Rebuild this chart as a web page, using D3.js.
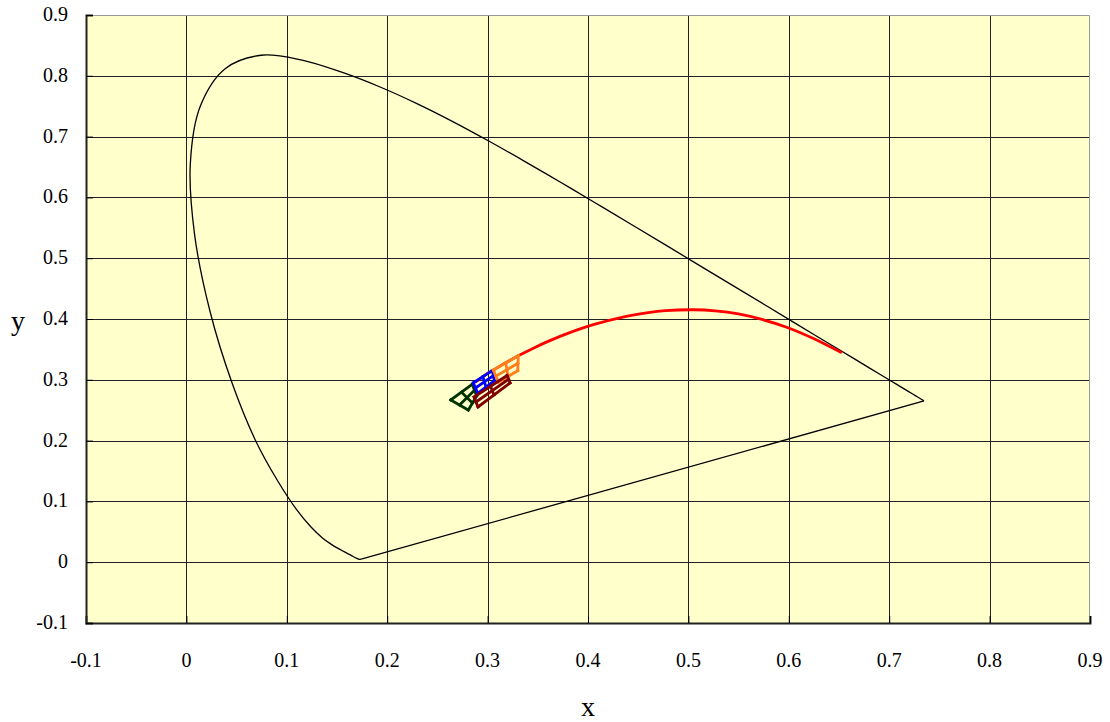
<!DOCTYPE html>
<html>
<head>
<meta charset="utf-8">
<script src="https://cdn.jsdelivr.net/npm/d3@7"></script>
<style>
  body { margin: 0; background: #fff; }
  text { font-family: "Liberation Serif", "DejaVu Serif", serif; fill: #000; }
</style>
</head>
<body>
<script>
// Spectrum locus (x, y), 380 - 700 nm, 5 nm steps
const locusX = [0.1741, 0.1740, 0.1738, 0.1736, 0.1733, 0.1730, 0.1726, 0.1721, 0.1714, 0.1703,
  0.1689, 0.1669, 0.1644, 0.1611, 0.1566, 0.1510, 0.1440, 0.1355, 0.1241, 0.1096,
  0.0913, 0.0687, 0.0454, 0.0235, 0.0082, 0.0039, 0.0139, 0.0389, 0.0743, 0.1142,
  0.1547, 0.1929, 0.2296, 0.2658, 0.3016, 0.3373, 0.3731, 0.4087, 0.4441, 0.4788,
  0.5125, 0.5448, 0.5752, 0.6029, 0.6270, 0.6482, 0.6658, 0.6801, 0.6915, 0.7006,
  0.7079, 0.7140, 0.7190, 0.7230, 0.7260, 0.7283, 0.7300, 0.7311, 0.7320, 0.7327,
  0.7334, 0.7340, 0.7344, 0.7346, 0.7347];
const locusY = [0.0050, 0.0050, 0.0049, 0.0049, 0.0048, 0.0048, 0.0048, 0.0048, 0.0051, 0.0058,
  0.0069, 0.0086, 0.0109, 0.0138, 0.0177, 0.0227, 0.0297, 0.0399, 0.0578, 0.0868,
  0.1327, 0.2007, 0.2950, 0.4127, 0.5384, 0.6548, 0.7502, 0.8120, 0.8338, 0.8262,
  0.8059, 0.7816, 0.7543, 0.7243, 0.6923, 0.6589, 0.6245, 0.5896, 0.5547, 0.5202,
  0.4866, 0.4544, 0.4242, 0.3965, 0.3725, 0.3514, 0.3340, 0.3197, 0.3083, 0.2993,
  0.2920, 0.2859, 0.2809, 0.2770, 0.2740, 0.2717, 0.2700, 0.2689, 0.2680, 0.2673,
  0.2666, 0.2660, 0.2656, 0.2654, 0.2653];

// Blackbody curve (red), 9000 K down to 1000 K
const bbX = [0.2874, 0.2952, 0.2999, 0.3064, 0.3135, 0.3221, 0.3325, 0.3451, 0.3608, 0.3805, 0.4053,
  0.4369, 0.4599, 0.4770, 0.5056, 0.5267, 0.5497, 0.5732, 0.5985, 0.6251, 0.6528];
const bbY = [0.2959, 0.3048, 0.3105, 0.3166, 0.3237, 0.3318, 0.3411, 0.3516, 0.3636, 0.3768, 0.3907,
  0.4041, 0.4106, 0.4137, 0.4152, 0.4133, 0.4083, 0.3993, 0.3860, 0.3674, 0.3444];

// Bin quadrangles: corners TL, TR, BR, BL
const binNames = ["green", "blue", "orange", "darkred"];
const binColors = ["#003300", "#0000ff", "#ff7f1a", "#800000"];
const binX = [
  [0.2633, 0.2848, 0.2891, 0.2808],
  [0.2858, 0.3047, 0.3067, 0.2901],
  [0.3057, 0.3306, 0.3300, 0.3107],
  [0.2865, 0.3194, 0.3224, 0.2904]
];
const binY = [
  [0.2668, 0.2926, 0.2733, 0.2503],
  [0.2952, 0.3150, 0.2985, 0.2778],
  [0.3161, 0.3396, 0.3150, 0.2959],
  [0.2717, 0.3071, 0.2948, 0.2553]
];

const ticks = [-0.1, 0, 0.1, 0.2, 0.3, 0.4, 0.5, 0.6, 0.7, 0.8, 0.9];

// Plot area
const margin = { top: 15, right: 20, bottom: 99, left: 86 };
const width = 1110 - margin.left - margin.right;
const height = 722 - margin.top - margin.bottom;

const svg = d3.select("body")
    .append("svg")
    .attr("width", 1110)
    .attr("height", 722);

const g = svg.append("g")
    .attr("transform", "translate(" + margin.left + "," + margin.top + ")");

const xScale = d3.scaleLinear().domain([-0.1, 0.9]).range([0, width]);
const yScale = d3.scaleLinear().domain([-0.1, 0.9]).range([height, 0]);

// background
g.append("rect")
    .attr("width", width)
    .attr("height", height)
    .style("fill", "#ffffcc");

// gridlines
g.selectAll(".vgrid")
    .data(ticks.slice(1, -1))
    .enter()
    .append("line")
    .attr("x1", d => Math.round(xScale(d)) + 0.5)
    .attr("x2", d => Math.round(xScale(d)) + 0.5)
    .attr("y1", 0)
    .attr("y2", height)
    .style("stroke", "#222")
    .style("stroke-width", 1);

g.selectAll(".hgrid")
    .data(ticks.slice(1, -1))
    .enter()
    .append("line")
    .attr("y1", d => Math.round(yScale(d)) + 0.5)
    .attr("y2", d => Math.round(yScale(d)) + 0.5)
    .attr("x1", 0)
    .attr("x2", width)
    .style("stroke", "#222")
    .style("stroke-width", 1);

// top / right border
g.append("path")
    .attr("d", "M0,0.5H" + (width - 0.5) + "V" + height)
    .style("fill", "none")
    .style("stroke", "#999")
    .style("stroke-width", 1);

// axes (inside ticks, labels drawn separately)
const xAxis = d3.axisBottom(xScale).tickValues(ticks).tickSize(-7).tickFormat("");
const yAxis = d3.axisLeft(yScale).tickValues(ticks).tickSize(-7).tickFormat("");

g.append("g")
    .attr("transform", "translate(0," + height + ")")
    .call(xAxis)
    .call(a => a.select(".domain").style("stroke-width", 2).style("stroke", "#222"));

g.append("g")
    .call(yAxis)
    .call(a => a.select(".domain").style("stroke-width", 2).style("stroke", "#222"));

// tick labels (plain hyphen for negatives)
const fmt = d => String(+d.toFixed(1));

g.selectAll(".xlab")
    .data(ticks)
    .enter()
    .append("text")
    .attr("x", d => xScale(d))
    .attr("y", height + 44)
    .attr("text-anchor", "middle")
    .style("font-size", "20px")
    .text(fmt);

g.selectAll(".ylab")
    .data(ticks)
    .enter()
    .append("text")
    .attr("x", -18)
    .attr("y", d => yScale(d) + 6)
    .attr("text-anchor", "end")
    .style("font-size", "20px")
    .text(fmt);

// axis titles
svg.append("text")
    .attr("x", 588)
    .attr("y", 716)
    .attr("text-anchor", "middle")
    .style("font-size", "28px")
    .text("x");

svg.append("text")
    .attr("x", 18)
    .attr("y", 330)
    .attr("text-anchor", "middle")
    .style("font-size", "28px")
    .text("y");

// spectrum locus (smoothed) and the straight purple line
const locus = locusX.map((x, i) => [x, locusY[i]]);
const line = d3.line().x(d => xScale(d[0])).y(d => yScale(d[1]));
const smooth = d3.line().curve(d3.curveCatmullRom.alpha(0.5)).x(d => xScale(d[0])).y(d => yScale(d[1]));

g.append("path")
    .attr("d", smooth(locus))
    .style("fill", "none")
    .style("stroke", "#000")
    .style("stroke-width", 1.3);

g.append("path")
    .attr("d", line([locus[0], locus[locus.length - 1]]))
    .style("fill", "none")
    .style("stroke", "#000")
    .style("stroke-width", 1.3);

// blackbody curve
const bb = bbX.map((x, i) => [x, bbY[i]]);
g.append("path")
    .attr("d", smooth(bb))
    .style("fill", "none")
    .style("stroke", "#ff0000")
    .style("stroke-width", 2.8);

// bins, each split into 2 x 2 cells
function lerp(a, b, t) { return [a[0] + (b[0] - a[0]) * t, a[1] + (b[1] - a[1]) * t]; }

binNames.forEach(function(name, k) {
    const c = binX[k].map((x, i) => [x, binY[k][i]]);
    const pt = (u, v) => lerp(lerp(c[0], c[1], u), lerp(c[3], c[2], u), v);
    const segs = [];
    [0, 0.5, 1].forEach(v => segs.push([pt(0, v), pt(1, v)]));
    [0, 0.5, 1].forEach(u => segs.push([pt(u, 0), pt(u, 1)]));
    g.append("g")
        .attr("class", "bin " + name)
        .selectAll("path")
        .data(segs)
        .enter()
        .append("path")
        .attr("d", d => line(d))
        .style("fill", "none")
        .style("stroke", binColors[k])
        .style("stroke-width", 2.8)
        .style("stroke-linecap", "square");
});
</script>
</body>
</html>
